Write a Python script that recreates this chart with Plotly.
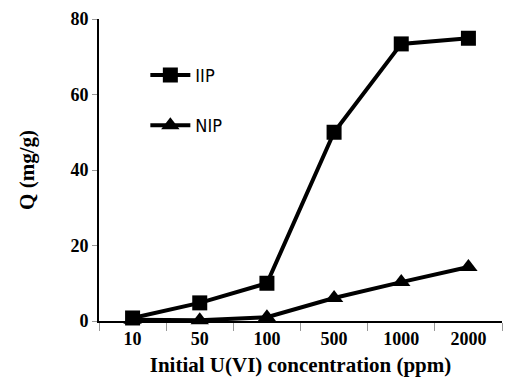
import plotly.graph_objects as go

# Initial uranium(VI) concentration categories (ppm)
concentrations = ["10", "50", "100", "500", "1000", "2000"]

# Adsorption capacity Q (mg/g)
q_iip = [0.8, 4.8, 10.0, 50.0, 73.4, 74.9]
q_nip = [0.3, 0.2, 1.0, 6.1, 10.3, 14.3]

y_ticks = [0, 20, 40, 60, 80]

serif = "Liberation Serif"

fig = go.Figure()
fig.add_trace(go.Scatter(
    x=concentrations, y=q_iip, name="IIP", mode="lines+markers",
    legendgroup="iip",
    line=dict(color="black", width=4),
    marker=dict(symbol="square", size=15, color="black"),
    cliponaxis=False,
))
fig.add_trace(go.Scatter(
    x=concentrations, y=q_nip, name="NIP", mode="lines+markers",
    legendgroup="nip",
    line=dict(color="black", width=4),
    marker=dict(symbol="triangle-up", size=16, color="black"),
    cliponaxis=False,
))

fig.update_layout(
    width=505, height=380,
    margin=dict(l=99, r=3, t=19, b=59),
    paper_bgcolor="white", plot_bgcolor="white",
    showlegend=True,
    legend=dict(
        x=0.115, y=0.875, xanchor="left", yanchor="top",
        bgcolor="rgba(0,0,0,0)",
        font=dict(family="DejaVu Sans Condensed, DejaVu Sans", size=18, color="black"),
        itemwidth=40, traceorder="grouped", tracegroupgap=24,
    ),
    xaxis=dict(
        type="category", range=[-0.5, 5.5],
        showline=True, linecolor="black", linewidth=2,
        ticks="outside", tickson="boundaries", ticklen=8, tickcolor="#999999",
        tickfont=dict(family=serif, size=18, color="black", weight="bold"),
        showgrid=False, zeroline=False,
        title=dict(text="Initial U(VI) concentration (ppm)", standoff=10,
                   font=dict(family=serif, size=21, color="black", weight="bold")),
    ),
    yaxis=dict(
        range=[0, 80], tickvals=y_ticks,
        showline=True, linecolor="black", linewidth=2,
        ticks="outside", ticklen=5, tickcolor="#999999",
        tickfont=dict(family=serif, size=18, color="black", weight="bold"),
        showgrid=False, zeroline=False,
        title=dict(text="Q (mg/g)", standoff=30,
                   font=dict(family=serif, size=21, color="black", weight="bold")),
    ),
)

fig.write_html("out.html")
